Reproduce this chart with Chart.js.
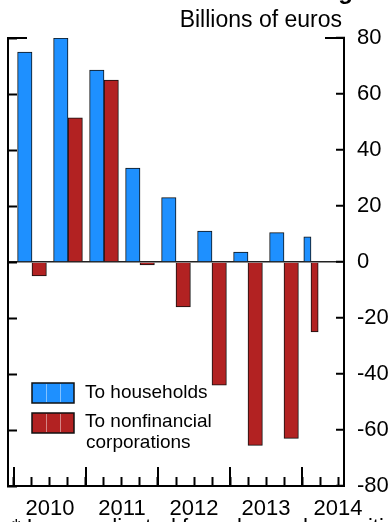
<!DOCTYPE html>
<html><head><meta charset="utf-8">
<script src="https://cdn.jsdelivr.net/npm/chart.js@4.4.1/dist/chart.umd.min.js"></script>
<style>html,body{margin:0;padding:0;background:#fff;}canvas{display:block;}</style>
</head><body>
<canvas id="c" width="391" height="522"></canvas>
<script>
// ---- data ----
const categories = ['2010 H1','2010 H2','2011 H1','2011 H2','2012 H1','2012 H2','2013 H1','2013 H2','2014 Q1'];
const households = [75, 80, 68.5, 33.5, 23, 11, 3.5, 10.5, 9];
const corporations = [-5, 51.5, 65, -1, -16, -44, -65.5, -63, -25];
const seriesNames = ['To households', ['To nonfinancial', 'corporations']];
const yTickValues = [-80, -60, -40, -20, 0, 20, 40, 60, 80];
const yearLabels = ['2010', '2011', '2012', '2013', '2014'];
const unitLabel = 'Billions of euros';
const titleText = 'Bank lending';
const footnoteText = '* Loans adjusted for sales and securitization';

// ---- periods -> time values ----
function periodInfo(cat) {
  const parts = cat.split(' ');
  const year = +parts[0], p = parts[1];
  const len = p[0] === 'H' ? 0.5 : 0.25;
  const start = year + (+p.slice(1) - 1) * len;
  return { kind: p[0], start: start, len: len, mid: start + len / 2 };
}
const info = categories.map(periodInfo);
const GROUP_SHARE = 0.8;              // share of each period covered by its pair of bars
// side: -1 = first bar of the pair, +1 = second bar of the pair
function points(values, kind, side) {
  const out = [];
  info.forEach((p, i) => {
    if (p.kind === kind) out.push({ x: p.mid + side * p.len * GROUP_SHARE / 4, y: values[i] });
  });
  return out;
}
const quarterTicks = [];
for (let t = 2010; t <= 2014.5 + 1e-9; t += 0.25) quarterTicks.push(+t.toFixed(2));

const BLUE = '#1E90FF', RED = '#B22222';
const FONT = "'Liberation Sans', Arial, sans-serif";
Chart.defaults.font.family = FONT;
Chart.defaults.color = '#000';

const xMin = 2009 + 11 / 12, xMax = 2014 + 7 / 12;
const PAD_LEFT = 8, RIGHT_AXIS_W = 47, CANVAS_W = 391;
const pxPerYear = (CANVAS_W - PAD_LEFT - RIGHT_AXIS_W) / (xMax - xMin);
const thickness = len => pxPerYear * len * GROUP_SHARE / 2;

const barStyle = { borderWidth: 1, borderColor: '#111', borderSkipped: 'start', grouped: false, xAxisID: 'x', yAxisID: 'y' };
const datasets = [
  Object.assign({ label: 'hh', data: points(households, 'H', -1), backgroundColor: BLUE, barThickness: thickness(0.5) }, barStyle),
  Object.assign({ label: 'nfc', data: points(corporations, 'H', 1), backgroundColor: RED, barThickness: thickness(0.5) }, barStyle),
  Object.assign({ label: 'hhq', data: points(households, 'Q', -1), backgroundColor: BLUE, barThickness: thickness(0.25) }, barStyle),
  Object.assign({ label: 'nfcq', data: points(corporations, 'Q', 1), backgroundColor: RED, barThickness: thickness(0.25) }, barStyle)
];

const yTicksFn = s => { s.ticks = yTickValues.map(v => ({ value: v })); };
const noPad = s => { s.paddingLeft = 0; s.paddingRight = 0; s.paddingTop = 0; s.paddingBottom = 0; };

const extras = {
  id: 'extras',
  afterDraw(chart) {
    const ctx = chart.ctx, ca = chart.chartArea, xs = chart.scales.x;
    ctx.save();
    ctx.strokeStyle = '#000';
    ctx.lineWidth = 2;
    // long year ticks
    yearLabels.forEach(l => {
      const px = Math.round(xs.getPixelForValue(+l));
      ctx.beginPath(); ctx.moveTo(px, ca.bottom); ctx.lineTo(px, ca.bottom - 19); ctx.stroke();
    });
    // long top ticks at the max
    const ty = Math.round(chart.scales.y.getPixelForValue(80));
    ctx.beginPath(); ctx.moveTo(ca.left - 1, ty); ctx.lineTo(ca.left + 19, ty); ctx.stroke();
    ctx.beginPath(); ctx.moveTo(ca.right + 1, ty); ctx.lineTo(ca.right - 19, ty); ctx.stroke();

    // legend
    const boxes = [{ c: BLUE, y: 383 }, { c: RED, y: 413 }];
    boxes.forEach(b => {
      ctx.fillStyle = b.c;
      ctx.fillRect(32, b.y, 42, 20);
      ctx.strokeStyle = 'rgba(255,255,255,0.45)'; ctx.lineWidth = 1;
      [46, 60].forEach(x => { ctx.beginPath(); ctx.moveTo(x + 0.5, b.y + 1); ctx.lineTo(x + 0.5, b.y + 19); ctx.stroke(); });
      ctx.strokeStyle = '#111'; ctx.lineWidth = 1.5;
      ctx.strokeRect(32, b.y, 42, 20);
    });
    ctx.fillStyle = '#000';
    ctx.font = '19px ' + FONT;
    ctx.textAlign = 'left'; ctx.textBaseline = 'alphabetic';
    ctx.fillText(seriesNames[0], 85, 398);
    ctx.fillText(seriesNames[1][0], 85, 427);
    ctx.fillText(seriesNames[1][1], 86, 448);

    // unit label
    ctx.font = '23px ' + FONT;
    ctx.textAlign = 'right';
    ctx.fillText(unitLabel, 342, 27);
    // cropped title
    ctx.font = 'bold 24px ' + FONT;
    ctx.fillText(titleText, 353, -1.5);
    // cropped footnote
    ctx.font = '22px ' + FONT;
    ctx.textAlign = 'left';
    ctx.fillText(footnoteText, 12, 534);
    ctx.restore();
  }
};

new Chart(document.getElementById('c'), {
  type: 'bar',
  data: { datasets: datasets },
  options: {
    responsive: false,
    animation: false,
    layout: { autoPadding: false, padding: { left: PAD_LEFT, top: 38, right: 0, bottom: 0 } },
    plugins: { legend: { display: false }, tooltip: { enabled: false }, title: { display: false } },
    scales: {
      x: {
        type: 'linear', position: 'bottom', min: xMin, max: xMax, bounds: 'data', offset: false,
        afterBuildTicks: s => { s.ticks = quarterTicks.map(v => ({ value: v })); },
        afterFit: s => { s.height = 36; noPad(s); },
        grid: { offset: false, display: true, drawOnChartArea: false, drawTicks: true, tickLength: -9, tickWidth: 2, tickColor: '#000', color: '#000' },
        border: { display: true, color: '#000', width: 2 },
        ticks: {
          autoSkip: false, maxRotation: 0, minRotation: 0, padding: 19, color: '#000',
          font: { size: 22 },
          callback: v => { const l = yearLabels.find(y => Math.abs(+y + 0.5 - v) < 1e-6); return l || ''; }
        }
      },
      y: {
        type: 'linear', position: 'right', min: -80, max: 80, stacked: false,
        afterBuildTicks: yTicksFn,
        afterFit: s => { s.width = RIGHT_AXIS_W; noPad(s); },
        grid: {
          display: true, drawOnChartArea: true, drawTicks: true,
          color: c => (c.tick && c.tick.value === 0) ? '#222' : 'rgba(0,0,0,0)',
          lineWidth: 1.5, tickLength: -8, tickWidth: 2, tickColor: '#000'
        },
        border: { display: true, color: '#000', width: 2 },
        ticks: { padding: 21, color: '#000', font: { size: 22 }, callback: v => String(v) }
      },
      yl: {
        type: 'linear', position: 'left', min: -80, max: 80, stacked: false,
        afterBuildTicks: yTicksFn,
        afterFit: s => { s.width = 0; noPad(s); },
        grid: { display: true, drawOnChartArea: false, drawTicks: true, tickLength: -9, tickWidth: 2, tickColor: '#000', color: '#000' },
        border: { display: true, color: '#000', width: 2 },
        ticks: { display: false }
      }
    }
  },
  plugins: [extras]
});
</script>
</body></html>
